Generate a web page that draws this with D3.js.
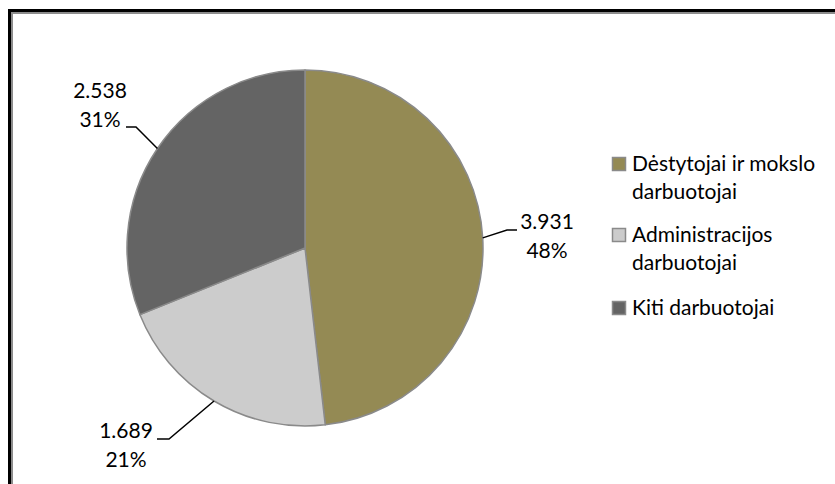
<!DOCTYPE html>
<html>
<head>
<meta charset="utf-8">
<script src="https://cdn.jsdelivr.net/npm/d3@7"></script>
<style>
  html, body { margin: 0; padding: 0; background: #fff; }
  svg { display: block; }
  text { font-family: Lato, "Open Sans", sans-serif; fill: #000; }
</style>
</head>
<body>
<svg id="chart" width="835" height="484"></svg>
<script>
// Staff categories and headcounts (thousands)
const categories = ["Dėstytojai ir mokslo darbuotojai", "Administracijos darbuotojai", "Kiti darbuotojai"];
const legendLines = [["Dėstytojai ir mokslo", "darbuotojai"], ["Administracijos", "darbuotojai"], ["Kiti darbuotojai"]];
const values = [3.931, 1.689, 2.538];
const valueLabels = ["3.931", "1.689", "2.538"];
const percentLabels = ["48%", "21%", "31%"];
const colors = ["#948A54", "#CCCCCC", "#646464"];

const W = 835, H = 484;
const svg = d3.select("#chart");

// Double frame running off the right and bottom edges
svg.append("rect").attr("x", 9.5).attr("y", 10.5).attr("width", W + 20).attr("height", H + 20)
  .attr("fill", "none").attr("stroke", "#000").attr("stroke-width", 3);
svg.append("rect").attr("x", 12).attr("y", 13).attr("width", W + 20).attr("height", H + 20)
  .attr("fill", "none").attr("stroke", "#8c8c8c").attr("stroke-width", 2);

const cx = 305, cy = 248, r = 178;
const g = svg.append("g").attr("transform", `translate(${cx},${cy})`);

const pie = d3.pie().sort(null).value(d => d);
const arcs = pie(values);
const arc = d3.arc().innerRadius(0).outerRadius(r);

g.selectAll("path.slice").data(arcs).join("path")
  .attr("class", "slice")
  .attr("d", arc)
  .attr("fill", (d, i) => colors[i])
  .attr("stroke", "#8a8a8a")
  .attr("stroke-width", 1.5)
  .attr("stroke-linejoin", "round");

// Callout layout: elbow point, end of horizontal run, text centre/baseline
const callouts = [
  { elbow: [202, -18], end: [212, -18], tx: 242, ty: -19 },
  { elbow: [-136, 191], end: [-148, 191], tx: -179, ty: 190 },
  { elbow: [-169, -121], end: [-179, -121], tx: -205, ty: -150 }
];

arcs.forEach((d, i) => {
  const c = callouts[i];
  const mid = (d.startAngle + d.endAngle) / 2;
  const p0 = [r * Math.sin(mid), -r * Math.cos(mid)];
  g.append("path")
    .attr("d", d3.line()([p0, c.elbow, c.end]))
    .attr("fill", "none").attr("stroke", "#000").attr("stroke-width", 1.5);
  const t = g.append("text").attr("text-anchor", "middle").style("font-size", "21px");
  t.append("tspan").attr("x", c.tx).attr("y", c.ty).text(valueLabels[i]);
  t.append("tspan").attr("x", c.tx).attr("y", c.ty + 29).text(percentLabels[i]);
});

// Legend
const legendBase = [171, 242, 315];
const lg = svg.append("g");
categories.forEach((name, i) => {
  const y = legendBase[i];
  lg.append("rect").attr("x", 612.5).attr("y", y - 13.5).attr("width", 13).attr("height", 13)
    .attr("fill", colors[i]).attr("stroke", "#8a8a8a").attr("stroke-width", 1.5);
  const t = lg.append("text").style("font-size", "21px");
  legendLines[i].forEach((line, j) => {
    t.append("tspan").attr("x", 632).attr("y", y + j * 28).text(line);
  });
});
</script>
</body>
</html>
